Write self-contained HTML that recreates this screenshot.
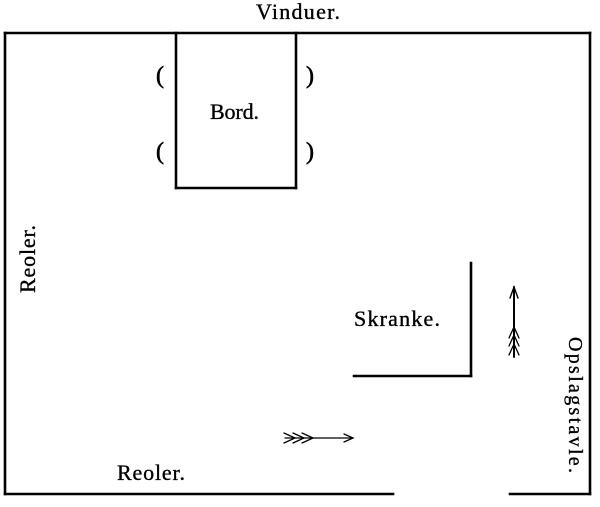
<!DOCTYPE html>
<html>
<head>
<meta charset="utf-8">
<style>
html,body{margin:0;padding:0;background:#fff;}
svg{display:block;}
text{font-family:"Liberation Serif",serif;font-size:22px;fill:#000;stroke:#000;stroke-width:0.35;}
text.p{font-size:24px;stroke-width:0.6;}
</style>
</head>
<body>
<svg width="600" height="507" viewBox="0 0 600 507" xmlns="http://www.w3.org/2000/svg">
  <!-- outer walls -->
  <g stroke="#000" stroke-width="2.6" fill="none" stroke-linecap="square">
    <line x1="5" y1="33" x2="590" y2="33"/>
    <line x1="5" y1="33" x2="5" y2="494"/>
    <line x1="590" y1="33" x2="590" y2="494"/>
    <line x1="5" y1="494" x2="393" y2="494"/>
    <line x1="510" y1="494" x2="590" y2="494"/>
    <!-- table -->
    <line x1="176" y1="33" x2="176" y2="188"/>
    <line x1="296" y1="33" x2="296" y2="188"/>
    <line x1="176" y1="188" x2="296" y2="188"/>
    <!-- counter -->
    <line x1="471" y1="263" x2="471" y2="376"/>
    <line x1="354" y1="376" x2="471" y2="376"/>
  </g>

  <!-- chairs -->
  <text class="p" x="156" y="83">(</text>
  <text class="p" x="156" y="159">(</text>
  <text class="p" x="306" y="83">)</text>
  <text class="p" x="306" y="159">)</text>

  <!-- labels -->
  <text x="256" y="19" textLength="84" lengthAdjust="spacing">Vinduer.</text>
  <text x="210" y="119" textLength="49" lengthAdjust="spacing">Bord.</text>
  <text x="354" y="326" textLength="86" lengthAdjust="spacing">Skranke.</text>
  <text x="117" y="480" textLength="68" lengthAdjust="spacing">Reoler.</text>
  <text transform="translate(35,293) rotate(-90)" x="0" y="0" textLength="68" lengthAdjust="spacing">Reoler.</text>
  <text transform="translate(569,337) rotate(90)" x="0" y="0" style="font-size:20px" textLength="136" lengthAdjust="spacing">Opslagstavle.</text>

  <!-- vertical arrow -->
  <g stroke="#000" fill="none" stroke-linecap="round">
    <line x1="514" y1="287" x2="514" y2="357" stroke-width="2"/>
    <polyline points="510,298 514,287 518,298" stroke-width="1.4"/>
    <polyline points="509,338 514,327 519,338" stroke-width="1.3"/>
    <polyline points="509,346 514,335 519,346" stroke-width="1.3"/>
    <polyline points="509,355 514,344 519,355" stroke-width="1.3"/>
  </g>

  <!-- horizontal arrow -->
  <g stroke="#000" fill="none" stroke-linecap="round">
    <line x1="285" y1="438" x2="353" y2="438" stroke-width="1.2"/>
    <polyline points="344,434 353,438 344,442" stroke-width="1.3"/>
    <polyline points="284,433 295,438 284,443" stroke-width="1.3"/>
    <polyline points="293,433 304,438 293,443" stroke-width="1.3"/>
    <polyline points="302,433 313,438 302,443" stroke-width="1.3"/>
  </g>
</svg>
</body>
</html>
